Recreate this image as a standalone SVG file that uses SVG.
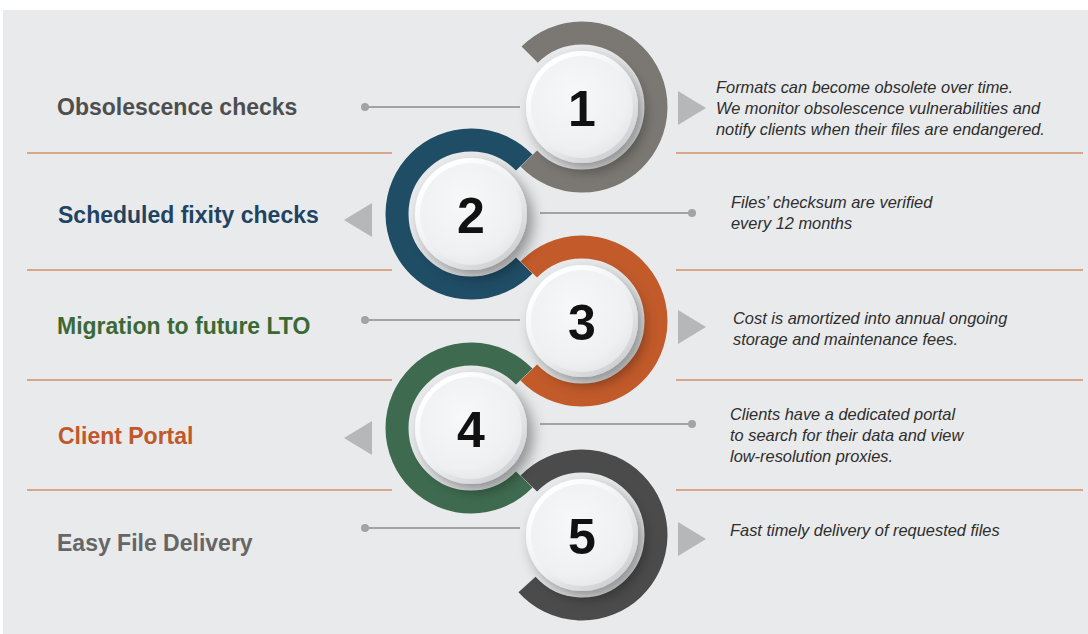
<svg xmlns="http://www.w3.org/2000/svg" width="1088" height="634" viewBox="0 0 1088 634">
  <style>
    .label { font-family: "Liberation Sans", Arial, sans-serif; font-weight: bold; font-size: 23px; }
    .desc { font-family: "Liberation Sans", Arial, sans-serif; font-style: italic; font-size: 16.4px; fill: #2e2e2e; }
    .num { font-family: "Liberation Sans", Arial, sans-serif; font-weight: bold; font-size: 50px; fill: #111111; text-anchor: middle; }
    .ring { fill: none; stroke-width: 23; }
    .sep { stroke: #d7a78c; stroke-width: 2; }
    .lead { stroke: #a3a3a3; stroke-width: 2; }
    .dot { fill: #a3a3a3; }
    .tri { fill: #b6b7b9; }
  </style>
  <defs>
    <radialGradient id="face" cx="0.42" cy="0.38" r="0.65">
      <stop offset="0" stop-color="#f7f8f9"/>
      <stop offset="0.8" stop-color="#eff0f2"/>
      <stop offset="1" stop-color="#e6e7e9"/>
    </radialGradient>
    <linearGradient id="rim" x1="0.2" y1="0.15" x2="0.8" y2="0.9">
      <stop offset="0" stop-color="#ffffff"/>
      <stop offset="0.55" stop-color="#eceef0"/>
      <stop offset="1" stop-color="#cfd1d4"/>
    </linearGradient>
    <filter id="btnShadow" x="-40%" y="-40%" width="190%" height="190%">
      <feDropShadow dx="6" dy="7" stdDeviation="7" flood-color="#000000" flood-opacity="0.38"/>
    </filter>
    <g id="button">
      <circle r="56" fill="url(#rim)" filter="url(#btnShadow)"/>
      <circle r="51" fill="url(#face)"/>
    </g>
  </defs>

  <!-- panel -->
  <rect x="0" y="0" width="1088" height="634" fill="#ffffff"/>
  <rect x="3" y="10" width="1085" height="624" fill="#e9eaeb"/>

  <!-- row separators -->
  <g id="separators">
    <line class="sep" x1="27" y1="153" x2="392" y2="153"/>
    <line class="sep" x1="676" y1="153" x2="1083" y2="153"/>
    <line class="sep" x1="27" y1="270" x2="392" y2="270"/>
    <line class="sep" x1="676" y1="270" x2="1083" y2="270"/>
    <line class="sep" x1="27" y1="380" x2="392" y2="380"/>
    <line class="sep" x1="676" y1="380" x2="1083" y2="380"/>
    <line class="sep" x1="27" y1="490" x2="392" y2="490"/>
    <line class="sep" x1="676" y1="490" x2="1083" y2="490"/>
  </g>

  <!-- S-shaped ring chain -->
  <g id="rings">
    <path class="ring" stroke="#7b7873" d="M529.67,54.67 A74,74 0 1 1 528.77,158.41"/>
    <path class="ring" stroke="#1f4d66" d="M524.23,162.59 A74,74 0 1 0 524.23,265.41"/>
    <path class="ring" stroke="#c25a2a" d="M528.77,269.59 A74,74 0 1 1 528.77,372.41"/>
    <path class="ring" stroke="#3e6b50" d="M524.23,376.59 A74,74 0 1 0 524.23,479.41"/>
    <path class="ring" stroke="#4b4b4b" d="M528.77,483.59 A74,74 0 1 1 527.01,584.51"/>
  </g>

  <!-- connectors -->
  <g id="connectors">
    <line class="lead" x1="365" y1="107" x2="520" y2="107"/>
    <circle class="dot" cx="365" cy="107" r="4"/>
    <polygon class="tri" points="678,91 706,108 678,125"/>

    <line class="lead" x1="540" y1="213" x2="692" y2="213"/>
    <circle class="dot" cx="692" cy="213" r="4"/>
    <polygon class="tri" points="372,203 344,220 372,237"/>

    <line class="lead" x1="365" y1="320" x2="520" y2="320"/>
    <circle class="dot" cx="365" cy="320" r="4"/>
    <polygon class="tri" points="678,310 706,327 678,344"/>

    <line class="lead" x1="540" y1="424" x2="692" y2="424"/>
    <circle class="dot" cx="692" cy="424" r="4"/>
    <polygon class="tri" points="372,421 344,438 372,455"/>

    <line class="lead" x1="365" y1="528" x2="520" y2="528"/>
    <circle class="dot" cx="365" cy="528" r="4"/>
    <polygon class="tri" points="678,522 706,539 678,556"/>
  </g>

  <!-- step 1 -->
  <g id="step1">
    <use href="#button" x="582" y="107"/>
    <text class="num" x="582" y="126">1</text>
    <text class="label" x="57" y="115" fill="#4e4e4e">Obsolescence checks</text>
    <text class="desc" x="716" y="93">Formats can become obsolete over time.</text>
    <text class="desc" x="716" y="114">We monitor obsolescence vulnerabilities and</text>
    <text class="desc" x="716" y="135">notify clients when their files are endangered.</text>
  </g>

  <!-- step 2 -->
  <g id="step2">
    <use href="#button" x="471" y="214"/>
    <text class="num" x="471" y="233">2</text>
    <text class="label" x="58" y="223" fill="#1f4463">Scheduled fixity checks</text>
    <text class="desc" x="731" y="208">Files’ checksum are verified</text>
    <text class="desc" x="731" y="229">every 12 months</text>
  </g>

  <!-- step 3 -->
  <g id="step3">
    <use href="#button" x="582" y="321"/>
    <text class="num" x="582" y="340">3</text>
    <text class="label" x="57" y="334" fill="#3b6936">Migration to future LTO</text>
    <text class="desc" x="733" y="324">Cost is amortized into annual ongoing</text>
    <text class="desc" x="733" y="345">storage and maintenance fees.</text>
  </g>

  <!-- step 4 -->
  <g id="step4">
    <use href="#button" x="471" y="428"/>
    <text class="num" x="471" y="447">4</text>
    <text class="label" x="58" y="444" fill="#c0582a">Client Portal</text>
    <text class="desc" x="730" y="420">Clients have a dedicated portal</text>
    <text class="desc" x="730" y="441">to search for their data and view</text>
    <text class="desc" x="730" y="462">low-resolution proxies.</text>
  </g>

  <!-- step 5 -->
  <g id="step5">
    <use href="#button" x="582" y="535"/>
    <text class="num" x="582" y="554">5</text>
    <text class="label" x="57" y="551" fill="#666666">Easy File Delivery</text>
    <text class="desc" x="730" y="536">Fast timely delivery of requested files</text>
  </g>
</svg>
